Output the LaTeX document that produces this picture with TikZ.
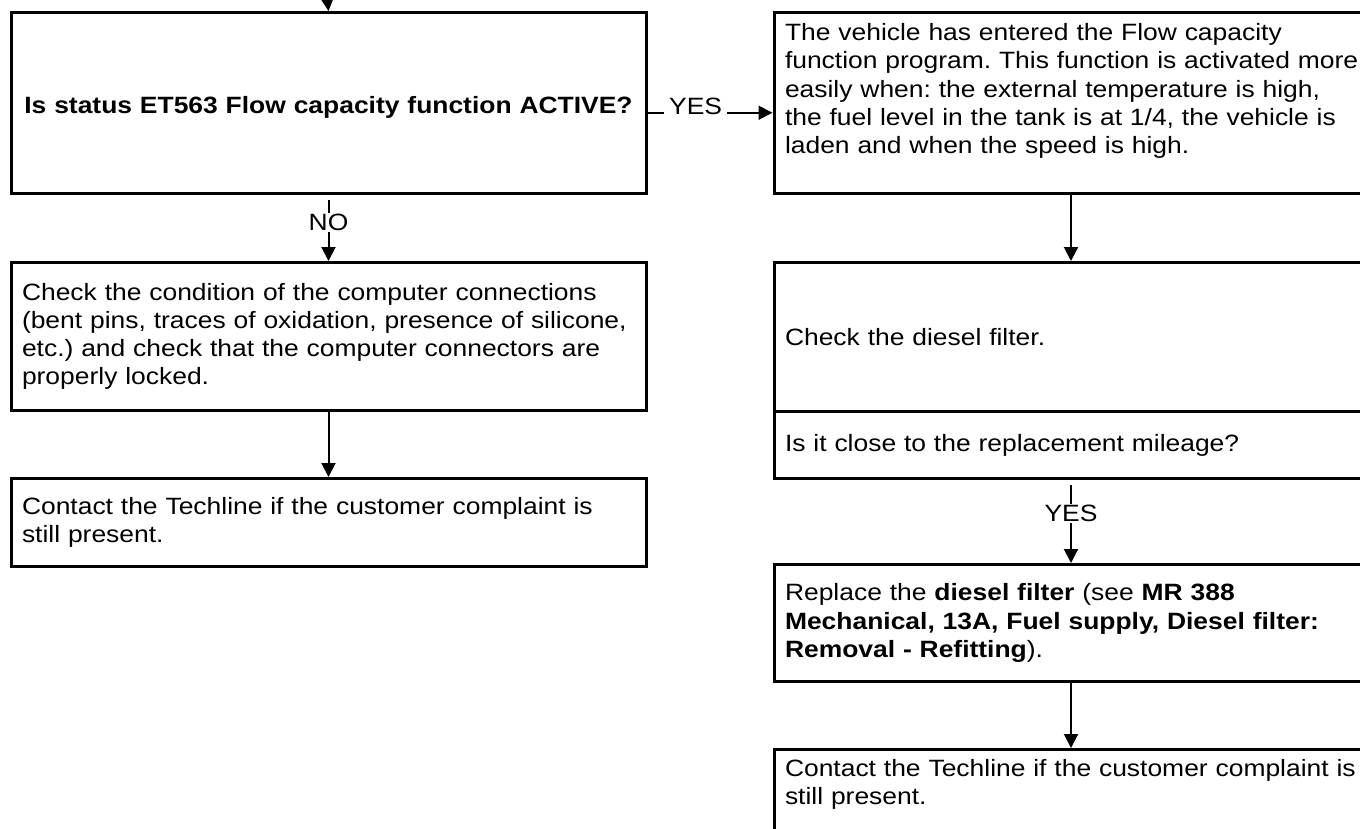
\documentclass[tikz,border=0pt]{standalone}
\usepackage{fontspec}
\setmainfont{Liberation Sans}[FakeStretch=1.12]
\usetikzlibrary{arrows.meta}
\newcommand\bodyfont{\fontsize{23.6}{28.2}\selectfont\frenchspacing}
\begin{document}
\begin{tikzpicture}[x=1pt,y=-1pt,
  boxbase/.style={draw, line width=3pt, anchor=north west, inner xsep=11pt, inner ysep=0pt, align=left, font=\bodyfont},
  boxL/.style={boxbase, minimum width=635pt, text width=613pt},
  boxR/.style={boxbase, minimum width=620pt, text width=598pt},
  arr/.style={line width=2pt, -{Triangle[width=14pt,length=14pt]}},
  lbl/.style={fill=white, inner xsep=2pt, inner ysep=1pt, font=\bodyfont}]
\useasboundingbox (0,0) rectangle (1360,828);
% left column
\node[boxL, minimum height=180.5pt, align=center, font=\bodyfont\bfseries] (L1) at (9.5,11) {\raisebox{-5pt}[\height][\depth]{Is status ET563 Flow capacity function ACTIVE?}};
\node[boxL, minimum height=148pt] (L2) at (9.5,261) {Check the condition of the computer connections\\(bent pins, traces of oxidation, presence of silicone,\\etc.) and check that the computer connectors are\\properly locked.};
\node[boxL, minimum height=88pt] (L3) at (9.5,477) {Contact the Techline if the customer complaint is\\still present.};
% right column
\node[boxR, minimum height=181pt] (A) at (772.5,11) {\parbox[c][159pt][t]{598pt}{The vehicle has entered the Flow capacity\\function program. This function is activated more\\easily when: the external temperature is high,\\the fuel level in the tank is at 1/4, the vehicle is\\laden and when the speed is high.}};
\node[boxR, minimum height=149pt] (B1) at (772.5,261) {Check the diesel filter.};
\node[boxR, minimum height=67pt] (B2) at (772.5,410) {Is it close to the replacement mileage?};
\node[boxR, minimum height=117pt] (C) at (772.5,563) {Replace the \textbf{diesel filter} (see \textbf{MR 388}\\\textbf{Mechanical, 13A, Fuel supply, Diesel filter:}\\\textbf{Removal - Refitting}).};
\node[boxR, minimum height=120pt] (D) at (772.5,748) {\parbox[c][100pt][t]{598pt}{Contact the Techline if the customer complaint is\\still present.}};
% connectors
\coordinate (top) at (327,-4);
\coordinate (rc) at (1071,0);
\draw[arr] (top) -- (L1.north);
\draw[arr, shorten <=5pt] (L1.south) -- node[lbl, pos=0.42] {NO} (L2.north);
\draw[arr] (L2.south) -- (L3.north);
\draw[arr] ([yshift=-10pt]L1.east) -- node[lbl, pos=0.385, yshift=6pt, inner xsep=5pt] {YES} ([yshift=-10pt]L1.east -| A.west);
\draw[arr] (A.south -| rc) -- (B1.north -| rc);
\draw[arr, shorten <=5pt] (B2.south -| rc) -- node[lbl, pos=0.4] {YES} (C.north -| rc);
\draw[arr] (C.south -| rc) -- (D.north -| rc);
\end{tikzpicture}
\end{document}
